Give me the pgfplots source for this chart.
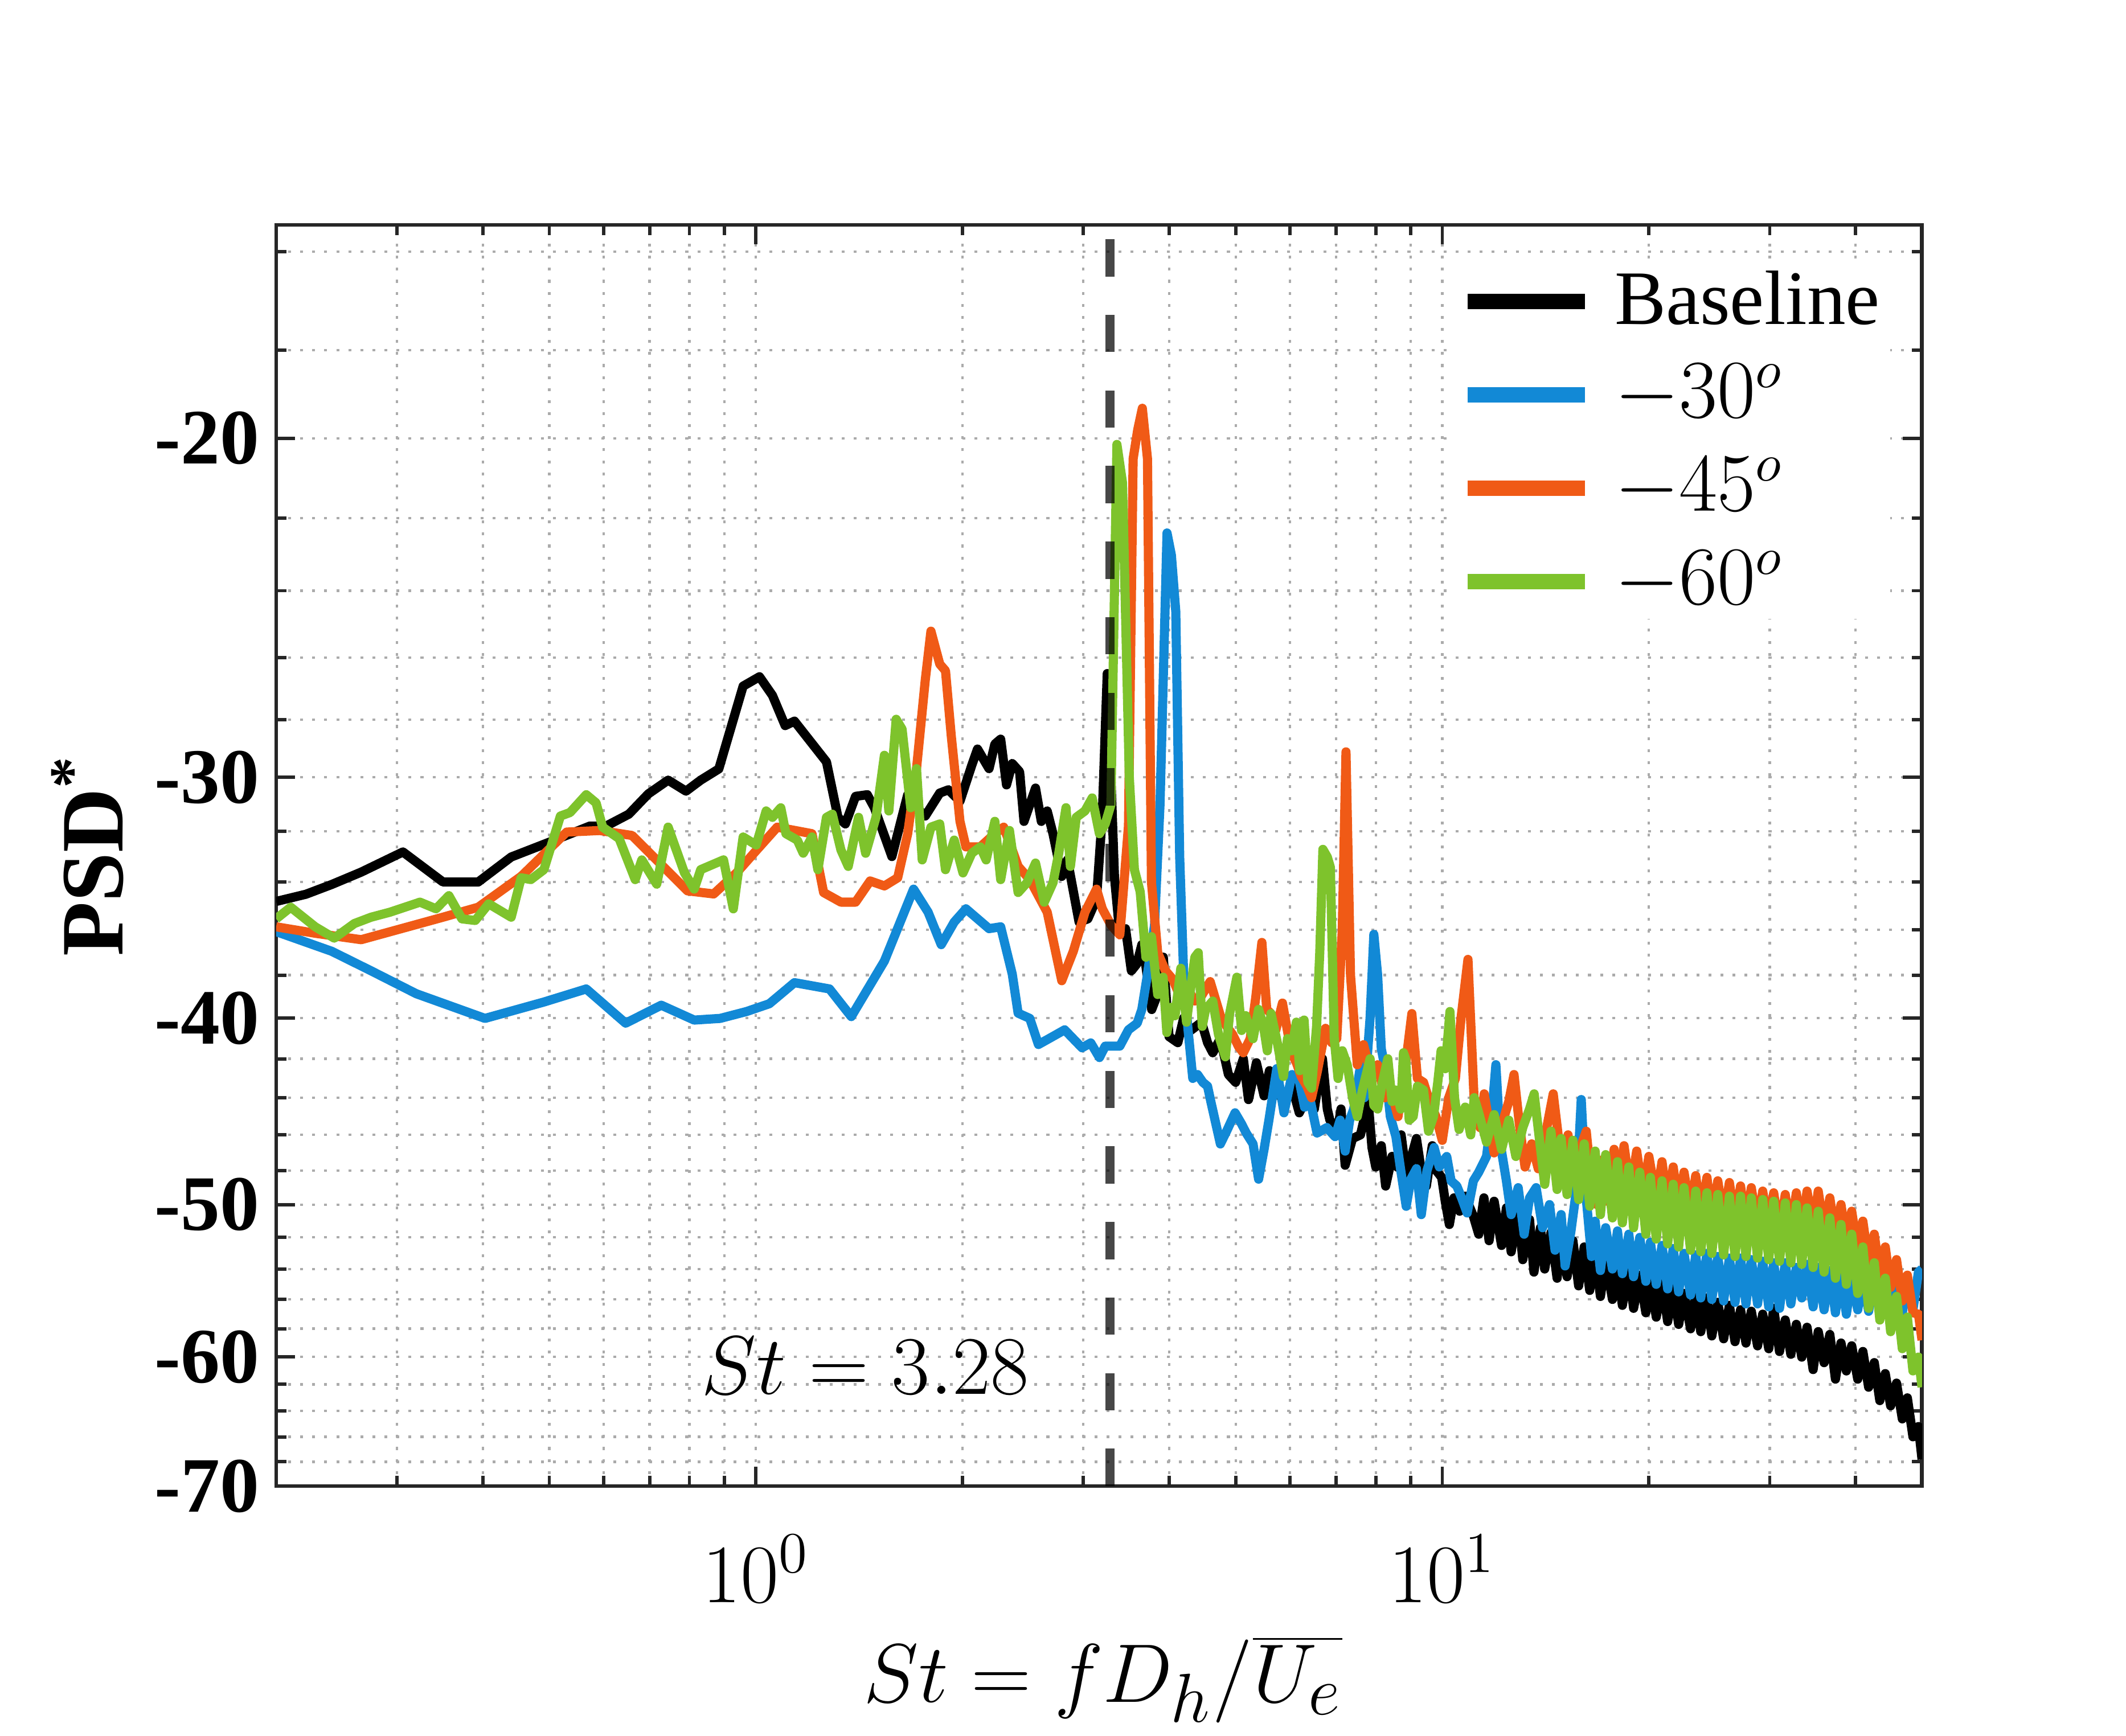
\documentclass[border=0pt]{standalone}
\usepackage[no-math]{fontspec}
\setmainfont{Liberation Serif}
\usepackage{pgfplots}
\pgfplotsset{compat=1.18}
\definecolor{mblue}{RGB}{18,137,214}
\definecolor{morange}{RGB}{240,90,22}
\definecolor{mgreen}{RGB}{126,195,44}
\definecolor{axgray}{RGB}{38,38,38}
\begin{document}
\begin{tikzpicture}
\path[use as bounding box] (-2.016cm,-1.825cm) rectangle (13.504cm,10.851cm);
\begin{axis}[
  scale only axis, width=12.015cm, height=9.209cm,
  at={(0,0)}, anchor=south west,
  xmode=log, xmin=0.2, xmax=50,
  y coord trafo/.code={\pgfmathparse{-ln(abs(#1))}},
  y coord inv trafo/.code={\pgfmathparse{-exp(-1*(#1))}},
  ymin=-70, ymax=-15.5,
  xtick={1,10},
  minor xtick={0.3,0.4,0.5,0.6,0.7,0.8,0.9,2,3,4,5,6,7,8,9,20,30,40},
  ytick={-70,-60,-50,-40,-30,-20},
  yticklabels={-70,-60,-50,-40,-30,-20},
  minor ytick={-68,-66,-64,-62,-58,-56,-54,-52,-48,-46,-44,-42,-38,-36,-34,-32,-28,-26,-24,-22,-18,-16},
  grid=both,
  major grid style={draw=black!33, line width=0.5pt, dash pattern=on 0.6pt off 1.9pt},
  minor grid style={draw=black!33, line width=0.5pt, dash pattern=on 0.6pt off 1.9pt},
  axis line style={draw=axgray, line width=0.8pt},
  every tick/.style={draw=axgray, line width=0.7pt},
  major tick length=0.14cm, minor tick length=0.075cm,
  tick align=inside, xtick pos=both, ytick pos=both,
  xticklabel style={font=\fontsize{16.6}{16.6}\selectfont, anchor=base, yshift=-0.85cm},
  yticklabel style={font=\bfseries\fontsize{16.3}{16.3}\selectfont},
  xlabel={$St = fD_h/\overline{U_e}$},
  ylabel={PSD\textsuperscript{*}},
  every axis x label/.style={at={(axis description cs:0.5024,0)}, anchor=base, yshift=-1.58cm, font=\fontsize{19}{19}\selectfont},
  every axis y label/.style={at={(axis description cs:-0.0931,0.5)}, rotate=90, anchor=base, font=\bfseries\fontsize{18.5}{18.5}\selectfont},
  legend style={at={(0.7125,0.9698)}, anchor=north west, draw=none, fill=white, inner xsep=2.1pt, inner ysep=0pt, row sep=3.9pt, column sep=0.16cm, font=\fontsize{16}{19}\selectfont, nodes={inner sep=0pt, text height=12.5pt, text depth=3pt}},
  legend cell align=left,
  legend image code/.code={\draw[#1, line width=3.2pt, line cap=butt] (0cm,0cm) -- (0.857cm,0cm);},
  every axis plot/.append style={line width=1.9pt, line join=round},
]
% Baseline
\addplot[black] coordinates {
(0.2,-34.8)(0.221,-34.5)(0.241,-34.1)(0.266,-33.6)(0.306,-32.8)(0.35,-34.0)(0.394,-34.0)(0.44,-33.0)(0.502,-32.4)(0.573,-31.8)(0.605,-31.8)(0.653,-31.35)(0.697,-30.6)(0.745,-30.1)(0.791,-30.5)(0.831,-30.1)(0.883,-29.7)(0.958,-26.9)(1.012,-26.6)(1.057,-27.2)(1.103,-28.2)
(1.138,-28.05)(1.267,-29.45)(1.317,-31.47)(1.35,-31.72)(1.397,-30.69)(1.453,-30.63)(1.488,-31.11)(1.578,-32.98)(1.664,-30.63)(1.714,-31.11)(1.765,-31.42)(1.853,-30.57)(1.908,-30.45)(1.983,-30.87)(2.063,-29.57)(2.103,-29.0)(2.186,-29.69)(2.229,-28.83)(2.273,-28.66)(2.318,-30.27)(2.363,-29.51)(2.422,-29.8)(2.458,-31.62)(2.555,-30.39)(2.605,-31.62)(2.657,-31.23)(2.709,-32.09)(2.79,-33.77)(2.844,-33.11)(2.957,-35.67)(3.045,-35.53)(3.135,-34.7)(3.197,-31.35)(3.25,-26.5)(3.33,-33.8)(3.39,-36.2)(3.456,-35.95)(3.524,-37.81)(3.59,-37.5)(3.65,-36.65)(3.7,-37.6)(3.773,-39.6)(3.847,-38.9)(3.923,-37.2)(3.999,-40.9)(4.118,-41.2)(4.2,-40.0)(4.3,-40.6)(4.46,-40.2)(4.55,-41.2)(4.63,-41.7)(4.75,-41.0)(4.88,-42.8)(5.0,-43.2)(5.13,-42.0)(5.22,-44.1)(5.36,-42.2)(5.5,-43.9)(5.6,-42.6)(5.69,-42.8)(5.8,-43.8)(5.88,-44.4)(6.04,-43.4)(6.19,-44.8)(6.35,-44.0)(6.51,-44.6)(6.6,-43.2)(6.69,-42.0)(6.8,-44.6)(6.86,-45.2)(7.04,-45.7)(7.12,-44.6)(7.22,-47.7)(7.4,-46.2)(7.6,-46.0)(7.8,-44.2)(7.9,-46.7)(8.0,-47.8)(8.15,-46.6)(8.27,-48.9)(8.45,-47.2)(8.6,-47.8)(8.71,-46.0)(8.82,-47.6)(8.93,-48.4)(9.05,-47.0)(9.17,-46.2)(9.35,-48.4)(9.48,-48.9)(9.67,-46.6)(9.8,-48.0)(9.98,-48.4)(10.1,-49.8)(10.24,-51.2)(10.4,-49.6)(10.6,-50.4)(10.8,-49.5)(11.1,-50.7)
(11.3,-51.8)(11.5,-49.6)(11.7,-52.2)(11.9,-49.8)(12.2,-52.5)(12.4,-50.2)(12.6,-52.9)(12.9,-50.4)(13.1,-53.4)(13.4,-50.9)(13.6,-54.2)(13.9,-51.4)(14.1,-54.0)(14.4,-51.7)(14.7,-54.6)(14.9,-52.0)(15.2,-54.5)(15.5,-52.2)(15.8,-55.1)(16.1,-52.6)(16.4,-55.4)(16.7,-53.0)(17.0,-55.8)(17.3,-53.4)(17.7,-56.0)(18.0,-53.8)(18.3,-56.4)(18.7,-54.0)(19.0,-56.6)(19.4,-54.4)(19.8,-56.9)(20.1,-54.6)(20.5,-57.2)(20.9,-54.9)(21.3,-57.5)(21.7,-55.2)(22.1,-57.7)(22.5,-55.6)(23.0,-58.0)(23.4,-55.7)(23.8,-58.2)(24.3,-55.9)(24.7,-58.5)(25.2,-56.2)(25.7,-58.7)(26.2,-56.4)(26.7,-58.9)(27.2,-56.7)(27.7,-59.0)(28.2,-56.8)(28.8,-59.2)(29.3,-57.0)(29.9,-59.4)(30.4,-56.6)(31.0,-59.6)(31.6,-57.4)(32.2,-59.8)(32.8,-57.7)(33.4,-60.0)(34.0,-57.9)(34.7,-60.9)(35.3,-58.2)(36.0,-60.4)(36.7,-58.4)(37.4,-61.6)(38.1,-59.0)(38.8,-61.0)(39.5,-59.2)(40.3,-61.6)(41.0,-59.6)(41.8,-62.2)(42.6,-60.4)(43.4,-63.2)(44.2,-61.2)(45.0,-63.6)(45.9,-61.9)(46.8,-64.6)(47.6,-63.0)(48.5,-66.0)(49.4,-65.2)(50.0,-67.8)
};
\addlegendentry{Baseline}
% -30
\addplot[mblue] coordinates {
(0.2,-36.08)(0.241,-36.94)(0.275,-37.81)(0.32,-38.86)(0.403,-40.02)(0.491,-39.25)(0.566,-38.64)(0.646,-40.25)(0.728,-39.4)(0.813,-40.1)(0.887,-40.02)(0.969,-39.7)(1.046,-39.33)(1.138,-38.35)(1.28,-38.64)(1.377,-39.94)(1.539,-37.37)(1.697,-34.29)(1.782,-35.25)(1.862,-36.65)(1.945,-35.67)(2.023,-35.11)(2.186,-35.95)(2.273,-35.87)(2.363,-37.96)(2.41,-39.78)(2.506,-40.02)(2.58,-41.29)(2.683,-40.97)(2.817,-40.57)(2.986,-41.45)(3.075,-41.21)(3.166,-41.94)(3.228,-41.37)(3.39,-41.37)(3.49,-40.57)(3.594,-40.25)(3.65,-39.6)(3.71,-38.2)(3.809,-35.8)(3.88,-31.0)(3.972,-22.4)(4.03,-23.0)(4.09,-24.6)(4.144,-33.0)(4.2,-38.0)(4.26,-40.5)(4.33,-43.0)(4.4,-42.8)(4.48,-43.2)(4.55,-43.4)(4.6,-44.2)(4.75,-46.5)(4.85,-45.8)(4.99,-44.8)(5.1,-45.4)(5.18,-45.9)(5.3,-46.5)(5.4,-48.5)(5.5,-46.8)(5.59,-45.2)(5.74,-42.5)(5.88,-44.8)(6.04,-42.8)(6.18,-43.0)(6.3,-44.5)(6.41,-44.0)(6.57,-45.9)(6.79,-45.6)(6.98,-46.1)(7.1,-45.2)(7.22,-46.9)(7.33,-45.2)(7.43,-44.6)(7.59,-42.5)(7.7,-44.0)(7.85,-40.0)(7.95,-36.2)(8.05,-38.0)(8.15,-41.5)(8.27,-42.6)(8.4,-45.0)(8.56,-46.1)(8.7,-48.0)(8.86,-50.1)(9.0,-48.5)(9.17,-47.9)(9.32,-50.6)(9.5,-48.0)(9.73,-46.7)(9.9,-47.8)(10.15,-47.2)(10.3,-48.6)(10.5,-48.9)(10.67,-49.6)(10.87,-50.5)(11.1,-48.6)
(11.3,-48.1)(11.6,-47.2)(11.8,-45.0)(11.97,-42.3)(12.15,-46.5)(12.4,-48.6)(12.6,-50.6)(12.9,-49.0)(13.16,-51.8)(13.4,-49.6)(13.7,-49.0)(14.0,-51.4)(14.33,-50.0)(14.6,-52.8)(14.9,-50.6)(15.1,-53.8)(15.4,-51.6)(15.7,-49.0)(15.94,-44.1)(16.2,-49.5)(16.5,-53.2)(16.7,-51.0)(17.0,-54.1)(17.3,-51.4)(17.7,-54.0)(18.0,-51.6)(18.3,-54.3)(18.7,-51.8)(19.0,-54.5)(19.4,-52.0)(19.8,-54.8)(20.1,-52.3)(20.5,-55.0)(20.9,-52.5)(21.3,-55.3)(21.7,-52.7)(22.1,-55.5)(22.5,-53.0)(23.0,-55.7)(23.4,-53.1)(23.8,-55.9)(24.3,-53.0)(24.7,-56.0)(25.2,-53.2)(25.7,-56.1)(26.2,-53.3)(26.7,-56.2)(27.2,-53.3)(27.7,-56.3)(28.2,-53.4)(28.8,-56.3)(29.3,-53.5)(29.9,-56.5)(30.4,-53.6)(31.0,-56.6)(31.6,-53.6)(32.2,-56.3)(32.8,-53.9)(33.4,-55.9)(34.0,-53.7)(34.7,-56.5)(35.3,-53.9)(36.0,-56.7)(36.7,-54.1)(37.4,-56.9)(38.1,-54.3)(38.8,-57.0)(39.5,-54.5)(40.3,-56.7)(41.0,-54.5)(41.8,-56.8)(42.6,-54.6)(43.4,-56.7)(44.2,-54.7)(45.0,-56.7)(45.9,-54.8)(46.8,-56.9)(47.6,-54.9)(48.5,-56.7)(49.4,-54.2)(50.0,-54.0)
};
\addlegendentry{$-30^o$}
% -45
\addplot[morange] coordinates {
(0.2,-35.87)(0.228,-36.15)(0.266,-36.43)(0.35,-35.46)(0.394,-35.04)(0.455,-33.77)(0.53,-32.03)(0.592,-31.97)(0.66,-32.16)(0.795,-34.36)(0.868,-34.49)(0.937,-33.63)(1.003,-32.72)(1.074,-31.84)(1.207,-32.09)(1.255,-34.43)(1.33,-34.83)(1.397,-34.83)(1.467,-33.96)(1.539,-34.16)(1.609,-33.83)(1.664,-32.09)(1.714,-29.69)(1.765,-26.71)(1.799,-25.19)(1.853,-26.2)(1.889,-26.41)(1.926,-28.55)(1.983,-31.62)(2.023,-32.6)(2.123,-32.6)(2.229,-32.09)(2.296,-31.84)(2.363,-32.72)(2.41,-33.37)(2.506,-33.9)(2.657,-35.25)(2.79,-38.26)(2.9,-36.94)(3.016,-35.25)(3.135,-34.29)(3.197,-35.11)(3.292,-35.8)(3.39,-36.22)(3.49,-31.8)(3.545,-20.5)(3.6,-19.8)(3.656,-19.3)(3.72,-20.5)(3.77,-34.0)(3.85,-37.0)(3.95,-37.8)(4.05,-38.2)(4.15,-39.0)(4.25,-38.6)(4.36,-39.2)(4.45,-39.0)(4.59,-38.3)(4.75,-39.9)(4.85,-40.4)(4.95,-40.8)(5.05,-41.4)(5.13,-41.7)(5.25,-41.0)(5.35,-39.0)(5.46,-36.55)(5.55,-39.6)(5.63,-39.8)(5.72,-40.6)(5.85,-39.3)(5.94,-40.5)(6.03,-41.7)(6.13,-42.2)(6.23,-42.9)(6.35,-43.4)(6.45,-44.0)(6.58,-42.6)(6.76,-40.5)(6.9,-41.2)(7.02,-41.0)(7.15,-36.0)(7.24,-29.1)(7.35,-38.0)(7.52,-42.3)(7.68,-41.3)(7.85,-42.6)(8.05,-42.3)(8.25,-44.0)(8.4,-43.5)(8.62,-45.0)(8.82,-42.6)(9.03,-39.8)(9.2,-43.0)(9.39,-43.2)(9.6,-44.3)(9.79,-45.0)(10.0,-46.3)(10.22,-44.0)(10.45,-43.0)(10.65,-40.0)(10.9,-37.3)(11.13,-44.2)(11.35,-45.6)(11.51,-43.8)
(11.9,-47.0)(12.2,-45.5)(12.5,-44.2)(12.72,-42.8)(12.95,-45.4)(13.2,-47.8)(13.5,-46.5)(13.8,-47.9)(14.1,-46.2)(14.3,-45.0)(14.51,-43.8)(14.75,-46.0)(15.0,-47.8)(15.25,-46.0)(15.5,-48.4)(15.8,-47.2)(16.0,-46.4)(16.21,-45.8)(16.45,-48.3)
(16.8,-50.0)(17.1,-47.4)(17.4,-49.8)(17.8,-46.8)(18.1,-49.2)(18.4,-46.6)(18.8,-49.2)(19.2,-46.9)(19.6,-49.4)(20.0,-47.2)(20.5,-49.7)(20.9,-47.5)(21.3,-50.0)(21.7,-47.8)(22.1,-50.2)(22.5,-48.1)(23.0,-50.4)(23.4,-48.3)(23.8,-50.6)(24.3,-48.4)(24.7,-50.8)(25.2,-48.6)(25.7,-50.9)(26.2,-48.7)(26.7,-51.0)(27.2,-48.9)(27.7,-51.2)(28.2,-49.0)(28.8,-51.4)(29.3,-49.2)(29.9,-51.5)(30.4,-49.3)(31.0,-51.6)(31.6,-49.4)(32.2,-51.6)(32.8,-49.3)(33.4,-51.5)(34.0,-49.2)(34.7,-51.4)(35.3,-49.2)(36.0,-51.6)(36.7,-49.6)(37.4,-51.9)(38.1,-50.0)(38.8,-52.2)(39.5,-50.4)(40.3,-52.8)(41.0,-51.0)(41.8,-53.6)(42.6,-51.8)(43.4,-54.4)(44.2,-52.6)(45.0,-55.2)(45.9,-53.4)(46.8,-56.1)(47.6,-54.4)(48.5,-56.9)(49.4,-57.0)(50.0,-58.8)
};
\addlegendentry{$-45^o$}
% -60
\addplot[mgreen] coordinates {
(0.2,-35.53)(0.21,-35.04)(0.228,-35.87)(0.243,-36.36)(0.26,-35.73)(0.275,-35.46)(0.293,-35.25)(0.324,-34.83)(0.342,-35.11)(0.357,-34.56)(0.373,-35.53)(0.39,-35.6)(0.408,-34.9)(0.44,-35.46)(0.455,-33.83)(0.47,-33.9)(0.491,-33.5)(0.519,-31.42)(0.536,-31.29)(0.566,-30.63)(0.585,-30.93)(0.598,-31.84)(0.632,-32.28)(0.667,-33.9)(0.682,-33.11)(0.717,-34.09)(0.745,-31.84)(0.787,-33.63)(0.813,-34.29)(0.831,-33.5)(0.897,-33.11)(0.927,-35.11)(0.958,-32.22)(1.001,-32.53)(1.035,-31.23)(1.057,-31.47)(1.087,-31.11)(1.106,-32.09)(1.149,-32.34)(1.172,-32.85)(1.207,-32.22)(1.231,-33.5)(1.267,-31.47)(1.292,-31.35)(1.33,-32.72)(1.363,-33.37)(1.411,-31.47)(1.445,-32.85)(1.496,-31.47)(1.539,-29.22)(1.562,-31.23)(1.601,-27.99)(1.633,-28.32)(1.681,-31.11)(1.714,-29.69)(1.747,-33.11)(1.799,-31.84)(1.853,-31.72)(1.889,-33.5)(1.945,-32.34)(2.003,-33.63)(2.063,-32.85)(2.123,-32.6)(2.165,-33.11)(2.229,-31.62)(2.273,-33.9)(2.341,-31.97)(2.41,-34.43)(2.482,-34.03)(2.555,-33.24)(2.631,-34.83)(2.709,-34.03)(2.762,-32.85)(2.83,-31.11)(2.872,-33.37)(2.929,-31.47)(3.016,-31.23)(3.09,-30.75)(3.166,-32.09)(3.228,-31.72)(3.29,-31.0)(3.357,-20.15)(3.421,-21.1)(3.5,-30.0)(3.56,-33.5)(3.63,-34.4)(3.7,-37.2)(3.77,-36.3)(3.85,-38.9)(3.92,-38.1)(3.97,-40.7)(4.03,-39.5)(4.08,-39.9)(4.16,-37.7)(4.24,-40.2)(4.3,-38.6)(4.36,-37.2)(4.41,-37.0)(4.47,-40.4)(4.52,-39.6)(4.63,-39.2)(4.72,-40.8)(4.83,-41.9)(4.9,-39.8)(5.02,-38.1)(5.1,-40.6)(5.17,-39.9)(5.3,-41.0)(5.4,-39.6)(5.49,-40.4)(5.56,-41.6)(5.63,-39.8)(5.75,-41.2)(5.87,-42.9)(5.95,-41.0)(6.03,-41.6)(6.13,-40.2)(6.2,-42.6)(6.29,-40.1)(6.37,-43.2)(6.45,-43.5)(6.56,-40.4)(6.63,-37.0)(6.7,-32.7)(6.8,-33.0)(6.87,-33.4)(6.96,-41.0)(7.05,-43.0)(7.15,-41.6)(7.27,-42.3)(7.4,-44.0)(7.52,-45.0)(7.65,-43.6)(7.85,-42.0)(7.95,-44.4)(8.05,-44.6)(8.18,-43.2)(8.33,-42.0)(8.45,-44.2)(8.55,-43.6)(8.7,-44.6)(8.78,-41.7)(8.84,-42.0)(8.95,-45.2)(9.07,-45.0)(9.2,-43.4)(9.39,-43.6)(9.55,-45.8)(9.71,-45.0)(9.85,-43.2)(9.96,-41.6)(10.1,-42.5)(10.26,-39.7)(10.42,-44.0)(10.58,-45.7)(10.8,-44.5)(11.0,-46.0)(11.13,-44.0)
(11.3,-44.8)(11.6,-46.4)(11.9,-44.9)(12.2,-46.8)(12.5,-45.2)(12.8,-47.2)(13.1,-45.6)(13.4,-44.6)(13.61,-43.8)
(13.85,-46.2)(14.1,-48.8)(14.4,-45.8)(14.7,-49.1)(14.9,-46.2)(15.2,-49.4)(15.5,-46.3)(15.8,-49.7)(16.1,-46.5)(16.4,-50.1)(16.7,-46.9)(17.0,-50.6)(17.3,-47.1)(17.7,-50.8)(18.0,-47.5)(18.3,-51.1)(18.7,-47.8)(19.0,-51.4)(19.4,-48.1)(19.8,-51.8)(20.1,-48.4)(20.5,-52.1)(20.9,-48.6)(21.3,-52.4)(21.7,-48.8)(22.1,-52.6)(22.5,-49.0)(23.0,-52.8)(23.4,-49.2)(23.8,-52.9)(24.3,-49.3)(24.7,-53.0)(25.2,-49.4)(25.7,-53.1)(26.2,-49.5)(26.7,-53.2)(27.2,-49.5)(27.7,-53.2)(28.2,-49.6)(28.8,-53.3)(29.3,-49.7)(29.9,-53.4)(30.4,-49.8)(31.0,-53.5)(31.6,-49.9)(32.2,-53.6)(32.8,-50.0)(33.4,-53.7)(34.0,-50.2)(34.7,-53.9)(35.3,-50.4)(36.0,-54.2)(36.7,-50.8)(37.4,-54.6)(38.1,-51.2)(38.8,-55.0)(39.5,-51.8)(40.3,-55.6)(41.0,-52.6)(41.8,-56.6)(42.6,-53.6)(43.4,-57.4)(44.2,-54.6)(45.0,-58.2)(45.9,-55.8)(46.8,-59.4)(47.6,-57.2)(48.5,-61.0)(49.4,-60.0)(50.0,-62.2)
};
\addlegendentry{$-60^o$}
% St = 3.28 marker line
\addplot[black, opacity=0.72, line width=1.8pt, line join=miter, dash pattern=on 0.272cm off 0.28cm, forget plot] coordinates {(3.28,-70) (3.28,-15.5)};
\node[anchor=base west, inner sep=0pt, font=\fontsize{18.3}{18.3}\selectfont] at (axis description cs:0.2578,0.0731) {$St = 3.28$};
\end{axis}
\end{tikzpicture}
\end{document}
